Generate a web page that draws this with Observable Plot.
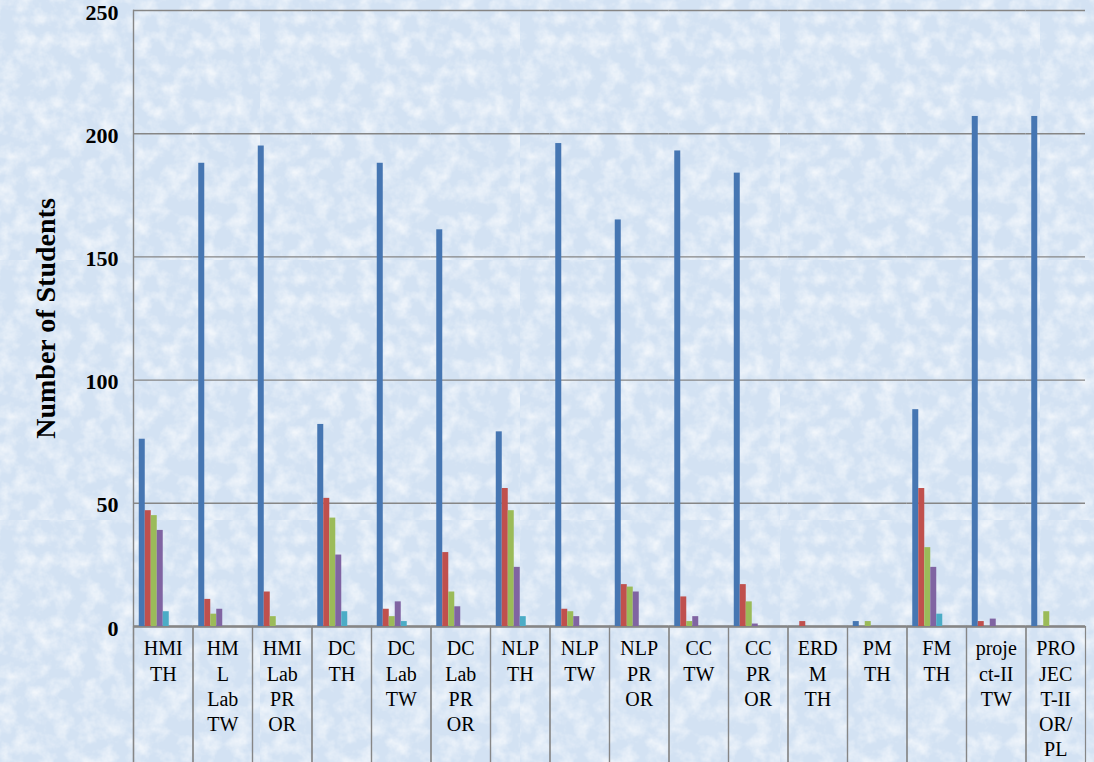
<!DOCTYPE html>
<html>
<head>
<meta charset="utf-8">
<script src="https://cdn.jsdelivr.net/npm/d3@7"></script>
<script src="https://cdn.jsdelivr.net/npm/@observablehq/plot@0.6"></script>
<style>
html, body { margin: 0; padding: 0; }
body {
  width: 1094px; height: 762px; overflow: hidden;
  background-color: #d3e2f3;
  background-image: url("data:image/svg+xml;utf8,<svg xmlns='http://www.w3.org/2000/svg' width='260' height='260'><filter id='n'><feTurbulence type='fractalNoise' baseFrequency='0.06' numOctaves='4' seed='11'/><feColorMatrix values='0 0 0 0 1  0 0 0 0 1  0 0 0 0 1  0 0 0 1.4 -0.55'/></filter><rect width='100%' height='100%' filter='url(%23n)'/></svg>");
}
#chart svg { display: block; }
#chart svg, #chart svg text { font-family: "Liberation Serif", "Times New Roman", serif !important; }
</style>
</head>
<body>
<div id="chart"></div>
<script>
// Categories (subjects) and their printed labels
const categories = ["HMI TH", "HML Lab TW", "HMI Lab PR OR", "DC TH", "DC Lab TW", "DC Lab PR OR",
  "NLP TH", "NLP TW", "NLP PR OR", "CC TW", "CC PR OR", "ERDM TH", "PM TH", "FM TH",
  "project-II TW", "PROJECT-II OR/PL"];
const tickLabels = ["HMI\nTH", "HM\nL\nLab\nTW", "HMI\nLab\nPR\nOR", "DC\nTH", "DC\nLab\nTW", "DC\nLab\nPR\nOR",
  "NLP\nTH", "NLP\nTW", "NLP\nPR\nOR", "CC\nTW", "CC\nPR\nOR", "ERD\nM\nTH", "PM\nTH", "FM\nTH",
  "proje\nct-II\nTW", "PRO\nJEC\nT-II\nOR/\nPL"];

// Series (no legend visible in the reference)
const seriesNames = ["Series1", "Series2", "Series3", "Series4", "Series5", "Series6", "Series7", "Series8"];
const series1 = [76, 188, 195, 82, 188, 161, 79, 196, 165, 193, 184, 0, 2, 88, 207, 207];
const series2 = [47, 11, 14, 52, 7, 30, 56, 7, 17, 12, 17, 2, 0, 56, 2, 0];
const series3 = [45, 5, 4, 44, 4, 14, 47, 6, 16, 2, 10, 0, 2, 32, 0, 6];
const series4 = [39, 7, 0, 29, 10, 8, 24, 4, 14, 4, 1, 0, 0, 24, 3, 0];
const series5 = [6, 0, 0, 6, 2, 0, 4, 0, 0, 0, 0, 0, 0, 5, 0, 0];
const seriesColors = ["#4676b2", "#c0504d", "#9bbb59", "#8064a2", "#4bacc6", "#f79646", "#2c4d75", "#772c2a"];

const yTicks = [0, 50, 100, 150, 200, 250];
const yTitle = "Number of Students";

const valueArrays = [series1, series2, series3, series4, series5];
const data = categories.flatMap((c, i) =>
  valueArrays.map((arr, j) => ({category: c, series: seriesNames[j], value: arr[i]})));
const labelOf = new Map(categories.map((c, i) => [c, tickLabels[i]]));

const gridColor = "#868686";
const tableDepth = 136;

const chart = Plot.plot({
  width: 1094,
  height: 762,
  marginLeft: 133,
  marginRight: 9,
  marginTop: 10,
  marginBottom: tableDepth,
  style: {background: "transparent", color: "#000"},
  fx: {domain: categories, padding: 0, round: false, label: null},
  x: {domain: seriesNames, paddingInner: 0, paddingOuter: 0.96, round: false, axis: null},
  y: {domain: [0, 250], label: null},
  color: {domain: seriesNames, range: seriesColors},
  marks: [
    Plot.gridY(yTicks, {stroke: gridColor, strokeOpacity: 1, strokeWidth: 1.4}),
    Plot.frame({anchor: "left", facet: "super", stroke: gridColor, strokeWidth: 1.4, insetBottom: -tableDepth}),
    Plot.frame({anchor: "left", stroke: gridColor, strokeWidth: 1.2, insetTop: 616, insetBottom: -tableDepth}),
    Plot.frame({anchor: "right", stroke: gridColor, strokeWidth: 1.2, insetTop: 616, insetBottom: -tableDepth}),
    Plot.ruleY([0], {stroke: gridColor, strokeWidth: 2.5}),
    Plot.barY(data, {fx: "category", x: "series", y: "value", fill: "series"}),
    Plot.axisY(yTicks, {tickSize: 0, tickPadding: 15, dy: 2, fontSize: 22, fontWeight: "bold", label: null}),
    Plot.axisY([], {tickSize: 0, label: yTitle, labelAnchor: "center", labelArrow: "none", labelOffset: 98, fontSize: 28, fontWeight: "bold"}),
    Plot.axisFx({anchor: "bottom", tickSize: 0, tickPadding: 11, fontSize: 20, lineHeight: 1.26, tickFormat: d => labelOf.get(d), label: null})
  ]
});
document.getElementById("chart").append(chart);
</script>
</body>
</html>
